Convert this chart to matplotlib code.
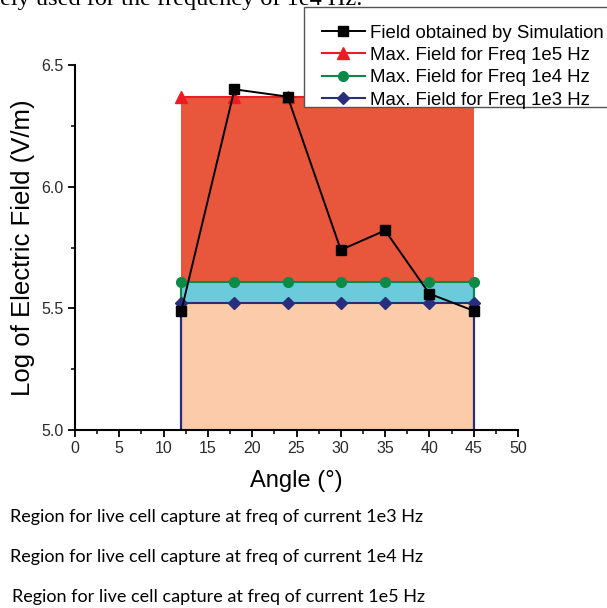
import matplotlib
matplotlib.use("Agg")
import matplotlib.pyplot as plt
from matplotlib.ticker import MultipleLocator
from matplotlib.patches import Rectangle
import numpy as np

# ---- data ----
angles = [12, 18, 24, 30, 35, 40, 45]
sim_field = [5.49, 6.40, 6.37, 5.74, 5.82, 5.56, 5.49]
max_1e5 = [6.37, 6.37, 6.37, 6.37, 6.37, 6.37, 6.37]
max_1e4 = [5.61, 5.61, 5.61, 5.61, 5.61, 5.61, 5.61]
max_1e3 = [5.52, 5.52, 5.52, 5.52, 5.52, 5.52, 5.52]
y_base = 5.0

labels = ["Field obtained by Simulation",
          "Max. Field for Freq 1e5 Hz",
          "Max. Field for Freq 1e4 Hz",
          "Max. Field for Freq 1e3 Hz"]
region_texts = ["Region for live cell capture at freq of current 1e3 Hz",
                "Region for live cell capture at freq of current 1e4 Hz",
                "Region for live cell capture at freq of current 1e5 Hz"]

c_red_fill = "#E8573C"
c_cyan_fill = "#6CCBDB"
c_peach_fill = "#FCCBA9"
c_red = "#ED1C24"
c_green = "#0B8A47"
c_blue = "#2A2D7C"

plt.rcParams['font.family'] = ['Liberation Sans', 'DejaVu Sans']

W, H = 607, 608
fig = plt.figure(figsize=(6.07, 6.08), dpi=100)
ax = fig.add_axes([75/W, 1-430/H, (518-75)/W, (430-65)/H])

x = np.array(angles)
ax.fill_between(x, max_1e4, max_1e5, color=c_red_fill, lw=0, zorder=1)
ax.fill_between(x, max_1e3, max_1e4, color=c_cyan_fill, lw=0, zorder=1)
ax.fill_between(x, y_base, max_1e3, color=c_peach_fill, lw=0, zorder=1)

# boundary verticals
for xe in (angles[0], angles[-1]):
    ax.plot([xe, xe], [y_base, max_1e3[0]], color=c_blue, lw=1.6, zorder=2)
    ax.plot([xe, xe], [max_1e3[0], max_1e4[0]], color=c_green, lw=1.6, zorder=2)

l_red, = ax.plot(x, max_1e5, color=c_red, lw=1.5, marker='^', ms=8, zorder=3)
l_green, = ax.plot(x, max_1e4, color=c_green, lw=1.5, marker='o', ms=7, zorder=3)
l_blue, = ax.plot(x, max_1e3, color=c_blue, lw=1.5, marker='D', ms=6, zorder=3)
l_sim, = ax.plot(x, sim_field, color='black', lw=1.4, marker='s', ms=6.5, zorder=4)

ax.set_xlim(0, 50)
ax.set_ylim(5.0, 6.5)
ax.xaxis.set_major_locator(MultipleLocator(5))
ax.xaxis.set_minor_locator(MultipleLocator(2.5))
ax.yaxis.set_major_locator(MultipleLocator(0.5))
ax.yaxis.set_minor_locator(MultipleLocator(0.25))
ax.yaxis.set_major_formatter(matplotlib.ticker.FormatStrFormatter('%.1f'))
for s in ('top', 'right'):
    ax.spines[s].set_visible(False)
for s in ('left', 'bottom'):
    ax.spines[s].set_linewidth(1.5)
    ax.spines[s].set_zorder(5)
ax.tick_params(which='major', direction='out', length=5, width=1.3, labelsize=11.5,
               labelcolor='#2a2a2a', pad=3)
ax.tick_params(which='minor', direction='out', length=3, width=1.1)
ax.set_xlabel("Angle (°)", fontsize=17, labelpad=10)
ax.set_ylabel("Log of Electric Field (V/m)", fontsize=18.5, labelpad=5)

# legend frame drawn separately
frame = Rectangle((304/W, 1-107/H), (W+10-304)/W, 100/H, transform=fig.transFigure,
                  facecolor='white', edgecolor='#555555', lw=1.0, zorder=9)
fig.add_artist(frame)

leg = fig.legend([l_sim, l_red, l_green, l_blue], labels,
                 loc='upper left', bbox_to_anchor=(322/W, 1-24.5/H),
                 fontsize=13.4, frameon=False, handlelength=2.3,
                 labelspacing=0.29, borderpad=0.0, handletextpad=0.3,
                 borderaxespad=0)
leg.set_zorder(10)

fig.text(0.0, 1-5/H, "ely used for the frequency of 1e4 Hz.",
         fontsize=17.5, family=['Liberation Serif', 'DejaVu Serif'],
         ha='left', va='baseline')

ys = [517, 557, 597]
xs = [10, 10, 12]
for t, xx, yy in zip(region_texts, xs, ys):
    fig.text(xx/W, 1-yy/H, t, fontsize=13,
             family=['Lato', 'DejaVu Sans'], ha='left', va='center')

fig.savefig("out.png", dpi=100)
